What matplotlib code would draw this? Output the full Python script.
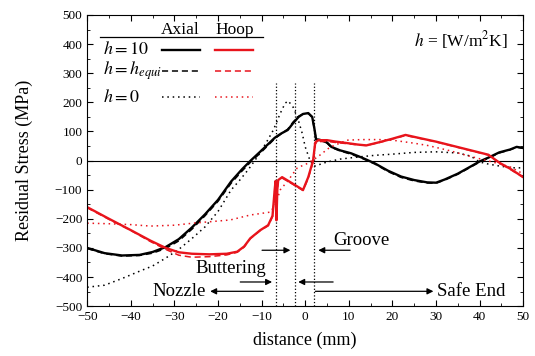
import numpy as np
import matplotlib.pyplot as plt
from matplotlib.ticker import MultipleLocator

plt.rcParams['font.family'] = 'Liberation Serif'
plt.rcParams['mathtext.fontset'] = 'stix'

# axial stress, h = 10
ax10_x = [-50, -46, -42, -38, -35, -32, -29, -26, -23, -20, -17, -14.5, -12.5, -10, -7, -5.5, -4, -2.8,
          -1.5, -0.5, 0.7, 1.6, 2.1, 2.5, 3.5, 5, 6, 8, 10.5, 13, 16, 19, 22, 25, 28, 30, 32, 35, 38,
          40, 42, 44.5, 47, 48.5, 50]
ax10_y = [-300, -318, -326, -324, -314, -297, -270, -230, -185, -135, -72, -30, 0, 35, 78, 93, 105, 128,
          150, 160, 163, 150, 110, 72, 70, 62, 47, 35, 25, 10, -10, -35, -55, -67, -75, -76, -65, -45, -20,
          -3, 10, 28, 38, 47, 43]

# axial stress, h = h_equi
axeq_x = [-50, -46, -42, -38, -35, -32, -29, -26, -23, -20, -17, -14.5, -12.5, -10, -7, -5.5, -4, -2.8,
          -1.5, -0.5, 0.7, 1.6, 2.1, 2.5, 3.5, 5, 6, 8, 10.5, 13, 16, 19, 22, 25, 28, 30, 32, 35, 38,
          40, 42, 44.5, 47, 48.5, 50]
axeq_y = [-302, -320, -328, -326, -318, -302, -276, -236, -190, -140, -78, -36, -5, 30, 75, 92, 108, 132,
          152, 160, 162, 148, 108, 74, 72, 60, 45, 33, 22, 8, -12, -38, -58, -70, -77, -78, -67, -47, -22,
          -5, 8, 26, 37, 46, 42]

# axial stress, h = 0
ax0_x = [-50, -46, -42, -38, -35, -32, -29, -26, -23, -20, -17, -15, -13, -11, -9, -7.3, -5.7, -4.6, -3.9,
         -2.8, -1.8, -0.7, 0, 1.1, 2, 3, 5, 8, 12, 16, 20, 25, 30, 35, 38, 40, 42, 45, 48, 50]
ax0_y = [-435, -428, -405, -380, -362, -335, -305, -268, -228, -175, -101, -67, -30, 12, 60, 105, 163, 197, 205,
         184, 150, 94, 47, 0, -20, -15, -5, 5, 12, 18, 22, 28, 30, 26, 15, -5, -12, -20, -25, -25]

# hoop stress, h = 10
hp10_x = [-50, -45, -40, -35.5, -32, -29, -26, -22, -18, -15.6, -14, -12.6, -10.3, -8.5, -7.5, -7.0, -6.8,
          -6.6, -6.4, -6.2, -5.3, -3, -0.5, 0.7, 1.8, 2.3, 3, 5, 7, 9.6, 12, 14, 17, 20, 23, 26, 30, 34,
          38, 42, 44.7, 47, 50]
hp10_y = [-160, -200, -239, -275, -300, -315, -320, -322, -320, -313, -295, -267, -239, -222, -190, -100, -70,
          -205, -100, -67, -57, -78, -101, -57, 0, 62, 70, 70, 65, 60, 55, 52, 63, 75, 88, 78, 65, 50,
          35, 20, -9, -28, -57]

# hoop stress, h = h_equi
hpeq_x = [-50, -45, -40, -35.5, -32, -29, -26, -22, -18, -15.6, -14, -12.6, -10.3, -8.5, -7.5, -7.0, -6.8,
          -6.4, -6.2, -5.3, -3, -0.5, 0.7, 1.8, 2.3, 3, 5, 7, 9.6, 12, 14, 17, 20, 23, 26, 30, 34,
          38, 42, 44.7, 47, 50]
hpeq_y = [-162, -202, -240, -278, -305, -325, -332, -330, -324, -315, -297, -268, -240, -224, -192, -105, -75,
          -100, -70, -60, -80, -103, -60, -5, 58, 65, 66, 62, 58, 54, 52, 62, 74, 86, 77, 64, 49,
          34, 19, -10, -30, -58]

# hoop stress, h = 0
hp0_x = [-50, -45, -40, -35.5, -30, -25.7, -21.8, -17.2, -12.6, -8, -6.8, -5.7, -4, -2.8, -1.8, 0.5, 2.8, 5.7,
         9.6, 13, 17, 20, 24.8, 28, 32.6, 38.5, 44, 47, 49.3, 50]
hp0_y = [-215, -217, -220, -225, -222, -215, -210, -204, -187, -177, -150, -100, -70, -45, -25, -10, 12, 46,
         70, 72, 72, 70, 60, 52, 36, 12, -9, -22, -40, -45]

# region boundaries (nozzle/buttering, buttering/groove, groove/safe end)
bounds = [-6.65, -2.3, 1.9]

fig = plt.figure(figsize=(5.35, 3.56), dpi=100)
ax = fig.add_axes([0.163, 0.140, 0.815, 0.818])

ax.axhline(0, color='k', lw=0.8)
ax.vlines(bounds, -500, 265, colors='k', linestyles=':', lw=0.9)

ax.plot(ax10_x, ax10_y, color='k', lw=1.7)
ax.plot(axeq_x, axeq_y, color='k', lw=1.1, ls=(0, (4, 2.5)))
ax.plot(ax0_x, ax0_y, color='k', lw=1.1, ls=(0, (1, 2.5)))
ax.plot(hp10_x, hp10_y, color='#e8141c', lw=1.7)
ax.plot(hpeq_x, hpeq_y, color='#e8141c', lw=1.1, ls=(0, (4, 2.5)))
ax.plot(hp0_x, hp0_y, color='#e8141c', lw=1.1, ls=(0, (1, 2.5)))

ax.set_xlim(-50, 50)
ax.set_ylim(-500, 500)
ax.xaxis.set_major_locator(MultipleLocator(10))
ax.xaxis.set_minor_locator(MultipleLocator(5))
ax.yaxis.set_major_locator(MultipleLocator(100))
ax.yaxis.set_minor_locator(MultipleLocator(50))
ax.tick_params(which='both', direction='in', top=True, right=True, labelsize=9.5)
ax.tick_params(which='major', length=4)
ax.tick_params(which='minor', length=2)
ax.set_xlabel('distance (mm)', fontsize=13, labelpad=6)
ax.set_ylabel('Residual Stress (MPa)', fontsize=13, labelpad=16)

# legend table: rows = h, columns = axial / hoop
tr = ax.transAxes
ax.text(0.213, 0.948, 'Axial', transform=tr, ha='center', va='center', fontsize=12.5)
ax.text(0.339, 0.948, 'Hoop', transform=tr, ha='center', va='center', fontsize=12.5)
ax.plot([0.030, 0.404], [0.924, 0.924], color='k', lw=0.9, transform=tr)
rows = [(0.880, r'$h = 10$', '-', 1.7),
        (0.808, r'$h = h_{equi}$', (0, (4, 2.5)), 1.1),
        (0.718, r'$h = 0$', (0, (1, 2.5)), 1.1)]
for yy, lab, ls, lw in rows:
    ax.text(0.037, yy, lab, transform=tr, ha='left', va='center', fontsize=13)
    ax.plot([0.172, 0.259], [yy, yy], color='k', ls=ls, lw=lw, transform=tr)
    ax.plot([0.294, 0.381], [yy, yy], color='#e8141c', ls=ls, lw=lw, transform=tr)

ax.text(46.6, 414, r'$h$ = [W/m$^2$K]', ha='right', va='center', fontsize=12.5)

# region annotations
arw = dict(arrowstyle='-|>', color='k', lw=0.9, mutation_scale=9, shrinkA=0, shrinkB=0)
ax.annotate('', xy=(-3.4, -308), xytext=(-9.9, -308), arrowprops=arw)
ax.annotate('', xy=(3.0, -308), xytext=(10.3, -308), arrowprops=arw)
ax.text(6.4, -274, 'Groove', ha='left', va='center', fontsize=13.5)

ax.annotate('', xy=(-7.6, -417), xytext=(-14.9, -417), arrowprops=arw)
ax.annotate('', xy=(-1.6, -417), xytext=(6.4, -417), arrowprops=arw)
ax.text(-17, -369, 'Buttering', ha='center', va='center', fontsize=13.5)

ax.annotate('', xy=(-21.8, -449), xytext=(-9.6, -449), arrowprops=arw)
ax.text(-22.9, -449, 'Nozzle', ha='right', va='center', fontsize=13.5)
ax.annotate('', xy=(29.4, -449), xytext=(2.3, -449), arrowprops=arw)
ax.text(30.3, -449, 'Safe End', ha='left', va='center', fontsize=13.5)

plt.savefig('out.png', dpi=100)
